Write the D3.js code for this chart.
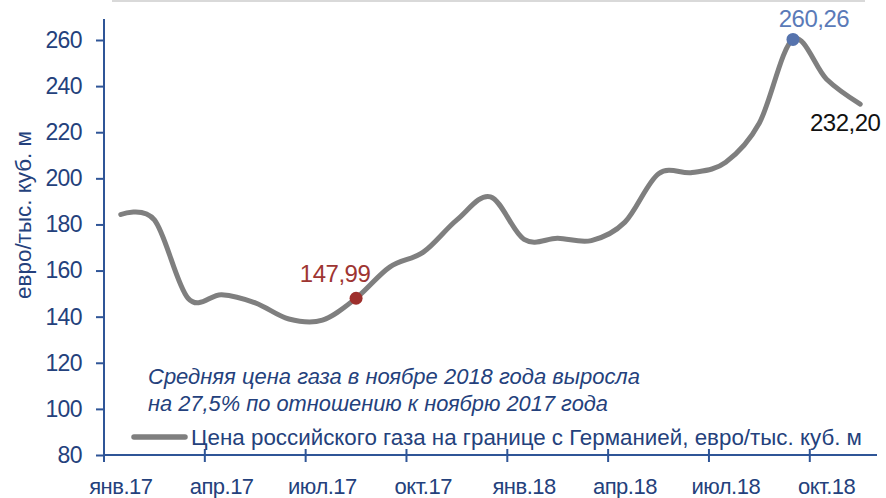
<!DOCTYPE html>
<html>
<head>
<meta charset="utf-8">
<script src="https://cdn.jsdelivr.net/npm/d3@7"></script>
<style>
  html, body { margin: 0; padding: 0; background: #fff; }
  svg { display: block; font-family: "Liberation Sans", Arial, sans-serif; }
</style>
</head>
<body>
<div id="chart"></div>
<script>
// Monthly categories, Jan 2017 – Nov 2018
const months = ['янв.17','фев.17','мар.17','апр.17','май.17','июн.17','июл.17','авг.17','сен.17','окт.17','ноя.17','дек.17',
                'янв.18','фев.18','мар.18','апр.18','май.18','июн.18','июл.18','авг.18','сен.18','окт.18','ноя.18'];
const prices = [184.3, 182, 148, 149.5, 146, 139, 138.5, 147.99, 161.5, 168, 182, 192,
                173.5, 174, 173, 181, 202, 202.5, 207, 224, 260.26, 243, 232.20];
const tickMonths = ['янв.17','апр.17','июл.17','окт.17','янв.18','апр.18','июл.18','окт.18'];
const yTicks = [80, 100, 120, 140, 160, 180, 200, 220, 240, 260];
const seriesName = 'Цена российского газа на границе с Германией, евро/тыс. куб. м';
const noteLines = ['Средняя цена газа в ноябре 2018 года выросла', 'на 27,5% по отношению к ноябрю 2017 года'];
const yTitle = 'евро/тыс. куб. м';

(function() {
  const W = 886, H = 498;
  const axisBlue = '#2f5597';
  const textBlue = '#24417c';

  const svg = d3.select('#chart').append('svg')
    .attr('width', W).attr('height', H);

  const x = d3.scalePoint().domain(months).range([104, 877]).padding(0.5);
  const step = x.step();
  const y = d3.scaleLinear().domain([80, 260]).range([455, 40]);

  // faint top border of the title box
  svg.append('line')
    .attr('x1', 112).attr('x2', 865).attr('y1', 1).attr('y2', 1)
    .attr('stroke', '#d9d9d9').attr('stroke-width', 2);

  // Y axis
  svg.append('line')
    .attr('x1', 104).attr('x2', 104).attr('y1', 19).attr('y2', 455)
    .attr('stroke', axisBlue).attr('stroke-width', 2);
  const yAxis = svg.append('g').attr('transform', 'translate(104,0)')
    .call(d3.axisLeft(y).tickValues(yTicks).tickSize(8).tickPadding(14).tickFormat(d3.format('d')));
  yAxis.select('.domain').remove();
  yAxis.selectAll('line').attr('stroke', axisBlue).attr('stroke-width', 2);
  yAxis.selectAll('text').attr('fill', textBlue).attr('font-size', '23px')
    .attr('font-family', '"Liberation Sans", Arial, sans-serif').attr('letter-spacing', '-0.6px');

  svg.append('text')
    .attr('transform', 'translate(31,215) rotate(-90)')
    .attr('text-anchor', 'middle')
    .attr('font-size', '22px').attr('fill', textBlue)
    .attr('textLength', 168).attr('lengthAdjust', 'spacingAndGlyphs')
    .text(yTitle);

  // X axis
  svg.append('line')
    .attr('x1', 104).attr('x2', 877).attr('y1', 455).attr('y2', 455)
    .attr('stroke', axisBlue).attr('stroke-width', 2);
  const tickIdx = tickMonths.map(m => months.indexOf(m));
  svg.append('g').selectAll('line').data(tickIdx).join('line')
    .attr('x1', i => x(months[i]) - step / 2).attr('x2', i => x(months[i]) - step / 2)
    .attr('y1', 449).attr('y2', 462)
    .attr('stroke', axisBlue).attr('stroke-width', 2);
  svg.append('g').selectAll('text').data(tickMonths).join('text')
    .attr('x', d => x(d)).attr('y', 494)
    .attr('text-anchor', 'middle')
    .attr('font-size', '22px').attr('fill', textBlue).attr('letter-spacing', '-0.5px')
    .text(d => d);

  // Annotation
  svg.append('g').selectAll('text').data(noteLines).join('text')
    .attr('x', 148).attr('y', (d, i) => 384 + i * 27)
    .attr('font-size', '22px').attr('font-style', 'italic').attr('fill', textBlue)
    .attr('textLength', (d, i) => i === 0 ? 492 : 460).attr('lengthAdjust', 'spacingAndGlyphs')
    .text(d => d);

  // Legend
  svg.append('line')
    .attr('x1', 134).attr('x2', 185).attr('y1', 437).attr('y2', 437)
    .attr('stroke', '#7f7f7f').attr('stroke-width', 5.5).attr('stroke-linecap', 'round');
  svg.append('text')
    .attr('x', 191).attr('y', 445)
    .attr('font-size', '22px').attr('fill', textBlue)
    .attr('textLength', 671).attr('lengthAdjust', 'spacingAndGlyphs')
    .text(seriesName);

  // Line
  const data = months.map((m, i) => ({ m, v: prices[i] }));
  const line = d3.line().x(d => x(d.m)).y(d => y(d.v)).curve(d3.curveCardinal.tension(0));
  svg.append('path').datum(data)
    .attr('fill', 'none').attr('stroke', '#7f7f7f').attr('stroke-width', 5)
    .attr('stroke-linecap', 'round').attr('stroke-linejoin', 'round')
    .attr('d', line);

  // Highlighted points
  const fmt = v => v.toFixed(2).replace('.', ',');
  const marks = [
    { i: 7, fill: '#9e2f2c', color: '#9e3532', dx: -21, dy: -16, r: 6.5 },
    { i: 20, fill: '#5673ad', color: '#5a7ab8', dx: 21, dy: -12, r: 6.5 },
    { i: 22, fill: null, color: '#111111', dx: -15, dy: 27, r: 0 }
  ];
  marks.forEach(mk => {
    const d = data[mk.i];
    if (mk.fill) {
      svg.append('circle').attr('cx', x(d.m)).attr('cy', y(d.v)).attr('r', mk.r).attr('fill', mk.fill);
    }
    svg.append('text')
      .attr('x', x(d.m) + mk.dx).attr('y', y(d.v) + mk.dy)
      .attr('text-anchor', 'middle')
      .attr('font-size', '24px').attr('fill', mk.color).attr('letter-spacing', '-0.5px')
      .text(fmt(d.v));
  });
})();
</script>
</body>
</html>
